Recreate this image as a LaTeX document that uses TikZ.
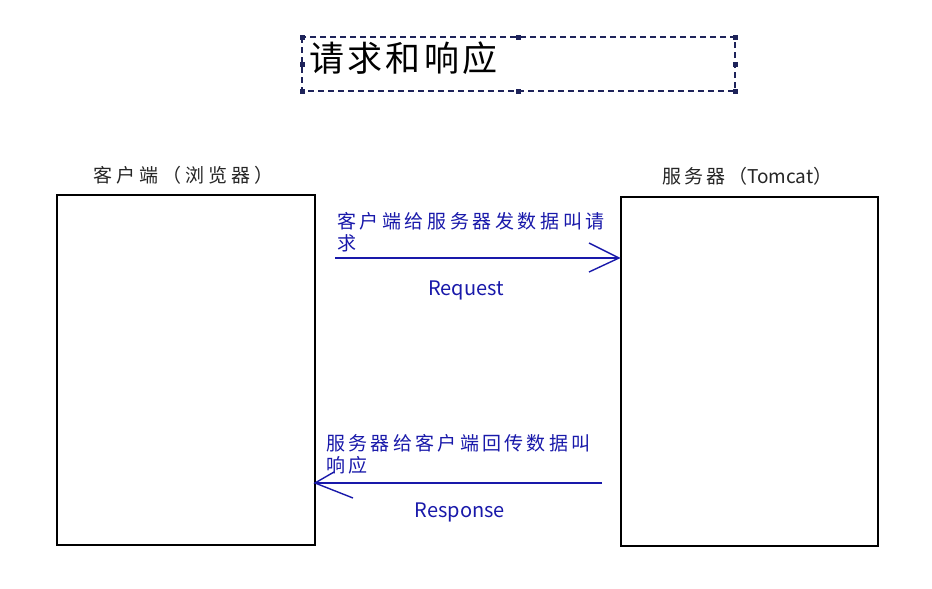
\documentclass[tikz,border=0pt]{standalone}
\usepackage{fontspec}
\setmainfont{Noto Sans CJK SC}
\definecolor{navy}{RGB}{30,35,90}
\definecolor{txtblue}{RGB}{25,25,170}
\def\cjksp#1#2{\def\cjkg{#1}\cjkspaux#2\relax}
\def\cjkspaux#1{\ifx#1\relax\else#1\kern\cjkg\relax\expandafter\cjkspaux\fi}
\tikzset{
  box/.style={draw=black, line width=1.5pt},
  lbl/.style={inner sep=0pt, font=\fontsize{19}{22}\selectfont, text=black!85},
  bluetxt/.style={inner sep=0pt, anchor=north west, align=left, text=txtblue, font=\fontsize{19}{22.5}\selectfont},
  engtxt/.style={inner sep=0pt, text=txtblue, font=\fontsize{20}{22}\selectfont},
  flow/.style={draw=txtblue, line width=1.4pt},
  handle/.style={fill=navy, minimum size=5pt, inner sep=0pt, draw=none, rectangle}
}
\begin{document}
\begin{tikzpicture}[x=1pt,y=-1pt]
\useasboundingbox (0,0) rectangle (932,589);
\fill[white] (0,0) rectangle (932,589);
% title
\draw[navy, dash pattern=on 6pt off 4pt, line width=1.5pt] (302,37) rectangle (735,91);
\foreach \i/\x/\y in {a/302/37,b/518/37,c/735/37,d/302/64,e/735/64,f/302/91,g/518/91,h/735/91}
  \node[handle] (h\i) at (\x,\y) {};
\node[inner sep=0pt, anchor=west, font=\fontsize{35}{40}\selectfont, text=black] (title) at (309,58) {\cjksp{3.4pt}{请求和响应}};
% boxes
\draw[box] (57,195) rectangle (315,545);
\draw[box] (621,197) rectangle (878,546);
\node[lbl, anchor=west] (cl) at (93,175) {\cjksp{4pt}{客户端（浏览器）}};
\node[lbl, anchor=west] (sv) at (662,176) {\cjksp{3pt}{服务器}（Tomcat）};
% request
\coordinate (rqs) at (335,258);
\coordinate (rqe) at (619,258);
\draw[flow] (rqs) -- (rqe);
\draw[flow] (589,243) -- (rqe) -- (589,272);
\node[bluetxt] (rqt) at (337,212) {\cjksp{3.6pt}{客户端给服务器发数据叫请}\\\cjksp{3.6pt}{求}};
\node[engtxt] (rq) at (466,290) {Request};
% response
\coordinate (rss) at (602,483);
\coordinate (rse) at (315,483);
\draw[flow] (rss) -- (rse);
\draw[flow] (334,472) -- (rse) -- (353,498);
\node[bluetxt] (rst) at (326,434) {\cjksp{3.3pt}{服务器给客户端回传数据叫}\\\cjksp{3.3pt}{响应}};
\node[engtxt] (rs) at (460,512) {Response};
\end{tikzpicture}
\end{document}
